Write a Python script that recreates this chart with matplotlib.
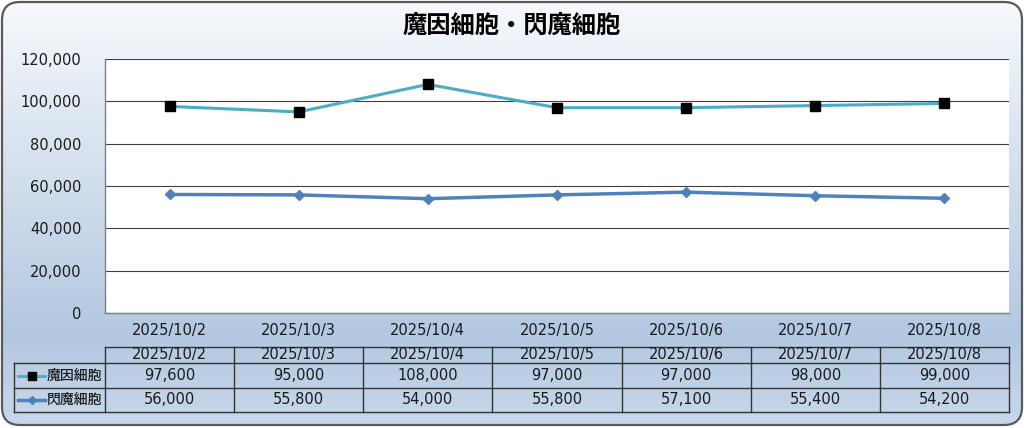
import numpy as np
import matplotlib
matplotlib.use("Agg")
import matplotlib.pyplot as plt
from matplotlib.colors import LinearSegmentedColormap
from matplotlib.patches import FancyBboxPatch
from matplotlib.lines import Line2D

plt.rcParams['font.family'] = ['DejaVu Sans', 'Noto Sans CJK JP']

title = "魔因細胞・閃魔細胞"
dates = ["2025/10/2", "2025/10/3", "2025/10/4", "2025/10/5",
         "2025/10/6", "2025/10/7", "2025/10/8"]
series_names = ["魔因細胞", "閃魔細胞"]
maoin = [97600, 95000, 108000, 97000, 97000, 98000, 99000]
senma = [56000, 55800, 54000, 55800, 57100, 55400, 54200]
yticks = [0, 20000, 40000, 60000, 80000, 100000, 120000]

W, H = 1024, 428
fig = plt.figure(figsize=(W / 100, H / 100), dpi=100)
fig.patch.set_alpha(0)

# background axes in pixel coordinates
bg = fig.add_axes([0, 0, 1, 1], zorder=0)
bg.set_xlim(0, W)
bg.set_ylim(H, 0)
bg.axis('off')

cmap = LinearSegmentedColormap.from_list(
    'bg', [(0, '#f6f9fc'), (0.78, '#b3c8e1'), (1.0, '#c9d8eb')])
grad = np.linspace(0, 1, 256).reshape(-1, 1)
im = bg.imshow(grad, cmap=cmap, aspect='auto', extent=(0, W, H, 0), zorder=0)
frame = FancyBboxPatch((2, 2), W - 4, H - 5, boxstyle="round,pad=0,rounding_size=18",
                       facecolor='none', edgecolor='#595959', linewidth=1.6, zorder=2)
bg.add_patch(frame)
im.set_clip_path(frame)

bg.text(W / 2, 26, title, ha='center', va='center', fontsize=17.5, fontweight='bold',
        family=['Noto Sans CJK JP', 'DejaVu Sans'])

fs = 10.5
txt = '#1a1a1a'

# plot area
px0, px1, py0, py1 = 105, 1009, 59, 313
ax = fig.add_axes([px0 / W, 1 - py1 / H, (px1 - px0) / W, (py1 - py0) / H], zorder=1)
ax.set_facecolor('white')
x = np.arange(len(dates))
ax.set_xlim(-0.5, len(dates) - 0.5)
ax.set_ylim(0, 120000)
ax.set_yticks(yticks)
ax.set_yticklabels([f"{v:,}" for v in yticks])
ax.set_xticks(x)
ax.set_xticklabels(dates)
ax.tick_params(length=0, labelsize=fs, pad=17, labelcolor=txt)
ax.tick_params(axis='x', pad=7)
ax.yaxis.grid(True, color='#404040', linewidth=0.8)
ax.set_axisbelow(True)
for s in ['top', 'right']:
    ax.spines[s].set_visible(False)
for s in ['left', 'bottom']:
    ax.spines[s].set_color('#808080')
    ax.spines[s].set_linewidth(1.0)

c1, c2 = '#4bacc6', '#4f81bd'
ax.plot(x, maoin, color=c1, linewidth=2.2, marker='s', markersize=7,
        markerfacecolor='black', markeredgecolor='black', zorder=3)
ax.plot(x, senma, color=c2, linewidth=2.5, marker='D', markersize=5,
        markerfacecolor=c2, markeredgecolor=c2, zorder=3)

# data table
col_w = (px1 - px0) / len(dates)
lx = 14
rows = [347, 363, 388, 412]
lc = '#333333'
lw = 1.0
bg.plot([px0, px1], [rows[0], rows[0]], color=lc, lw=lw, zorder=3)
for r in rows[1:]:
    bg.plot([lx, px1], [r, r], color=lc, lw=lw, zorder=3)
bg.plot([lx, lx], [rows[1], rows[3]], color=lc, lw=lw, zorder=3)
for i in range(len(dates) + 1):
    xx = px0 + i * col_w
    bg.plot([xx, xx], [rows[0], rows[3]], color=lc, lw=lw, zorder=3)

for i, d in enumerate(dates):
    cx = px0 + (i + 0.5) * col_w
    bg.text(cx, (rows[0] + rows[1]) / 2, d, ha='center', va='center', fontsize=fs,
            color=txt, zorder=4)
    bg.text(cx, (rows[1] + rows[2]) / 2, f"{maoin[i]:,}", ha='center', va='center',
            fontsize=fs, color=txt, zorder=4)
    bg.text(cx, (rows[2] + rows[3]) / 2, f"{senma[i]:,}", ha='center', va='center',
            fontsize=fs, color=txt, zorder=4)

styles = [dict(color=c1, marker='s', mfc='black', mec='black', ms=6, lw=2.0),
          dict(color=c2, marker='D', mfc=c2, mec=c2, ms=4.5, lw=2.5)]
for k, name in enumerate(series_names):
    st = styles[k]
    cy = (rows[k + 1] + rows[k + 2]) / 2
    bg.add_line(Line2D([18, 45], [cy, cy], color=st['color'], lw=st['lw'], zorder=4))
    bg.plot([31.5], [cy], zorder=5, linestyle='None', marker=st['marker'],
            mfc=st['mfc'], mec=st['mec'], ms=st['ms'])
    bg.text(47, cy, name, ha='left', va='center', fontsize=10, color=txt, zorder=4,
            family=['Noto Sans CJK JP', 'DejaVu Sans'], fontweight='medium')

fig.savefig("out.png", dpi=100)
